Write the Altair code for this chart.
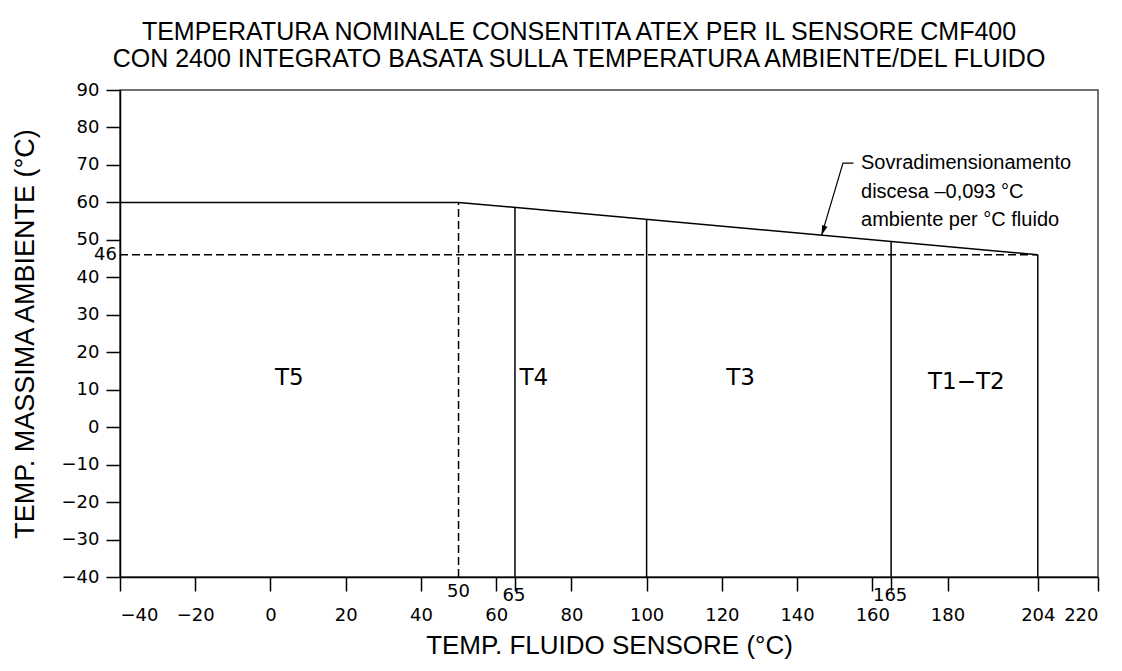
import altair as alt
import pandas as pd

# ---------------- data ----------------
TITLE = ["TEMPERATURA NOMINALE CONSENTITA ATEX PER IL SENSORE CMF400",
         "CON 2400 INTEGRATO BASATA SULLA TEMPERATURA AMBIENTE/DEL FLUIDO"]
X_TITLE = "TEMP. FLUIDO SENSORE (°C)"
Y_TITLE = "TEMP. MASSIMA AMBIENTE (°C)"

# upper limit line (fluid temp, max ambient temp)
limit_x = [-40, 50, 204]
limit_y = [60, 60, 46]

# solid class boundaries
div_x = [65, 100, 165, 204]
div_top = [58.6, 55.5, 49.5, 46.0]
y_min = -40

# dashed guides
vdash_x = [50]
vdash_top = [60]
hdash_y = [46]
hdash_x0 = [-40]
hdash_x1 = [204]

# temperature class labels
zones = ["T5", "T4", "T3", "T1−T2"]
zone_x = [5, 70, 125, 185]
zone_y = [13, 13, 13, 12]

# axis ticks
x_ticks = [-40, -20, 0, 20, 40, 60, 80, 100, 120, 140, 160, 180, 204, 220]
x_minor_ticks = [65, 165]
y_ticks = list(range(-40, 91, 10))

# extra labels
mark50_label = ["50"]
mark50_x = [50]
marks_labels = ["65", "165"]
marks_x = [65, 165]
mark46_label = ["46"]
mark46_y = [46]

# annotation
note_lines = ["Sovradimensionamento", "discesa –0,093 °C", "ambiente per °C fluido"]
note_x = [157, 157, 157]
note_y = [70.5, 62.8, 55.3]
leader_x = [155, 152.2, 146.5]
leader_y = [70.5, 70.5, 51.2]
tip_x = [146.5]
tip_y = [51.2]

# ---------------- chart ----------------
xs = alt.Scale(domain=[-40, 220], nice=False, zero=False)
ys = alt.Scale(domain=[-40, 90], nice=False, zero=False)

x_axis = alt.Axis(values=x_ticks + x_minor_ticks,
                  labelExpr="(datum.value == 65 || datum.value == 165) ? '' : datum.label",
                  tickSize=14, labelPadding=15, titlePadding=8, titleFontSize=26)
y_axis = alt.Axis(values=y_ticks, tickSize=14, labelPadding=7, titlePadding=22, titleFontSize=27)

X = lambda f="x": alt.X(f"{f}:Q", scale=xs, axis=x_axis, title=X_TITLE)
Y = lambda f="y": alt.Y(f"{f}:Q", scale=ys, axis=y_axis, title=Y_TITLE)

LW = 1.5

limit = alt.Chart(pd.DataFrame({"x": limit_x, "y": limit_y})).mark_line(
    color="black", strokeWidth=LW).encode(x=X(), y=Y())

divs = alt.Chart(pd.DataFrame({"x": div_x, "y": [y_min] * len(div_x), "y2": div_top})).mark_rule(
    color="black", strokeWidth=LW).encode(x=X(), y=Y(), y2="y2:Q")

vdash = alt.Chart(pd.DataFrame({"x": vdash_x, "y": [y_min], "y2": vdash_top})).mark_rule(
    color="black", strokeWidth=LW, strokeDash=[8, 4]).encode(x=X(), y=Y(), y2="y2:Q")

hdash = alt.Chart(pd.DataFrame({"x": hdash_x0, "x2": hdash_x1, "y": hdash_y})).mark_rule(
    color="black", strokeWidth=LW, strokeDash=[8, 4]).encode(x=X(), x2="x2:Q", y=Y())

zone_txt = alt.Chart(pd.DataFrame({"x": zone_x, "y": zone_y, "t": zones})).mark_text(
    font="DejaVu Sans", fontSize=23, color="black").encode(x=X(), y=Y(), text="t:N")

lab50 = alt.Chart(pd.DataFrame({"x": mark50_x, "y": [y_min], "t": mark50_label})).mark_text(
    font="DejaVu Sans", fontSize=18, color="black", dy=15).encode(x=X(), y=Y(), text="t:N")

labs = alt.Chart(pd.DataFrame({"x": marks_x, "y": [y_min] * 2, "t": marks_labels})).mark_text(
    font="DejaVu Sans", fontSize=18, color="black", dy=19, dx=-1).encode(x=X(), y=Y(), text="t:N")

lab46 = alt.Chart(pd.DataFrame({"x": [-40], "y": mark46_y, "t": mark46_label})).mark_text(
    font="DejaVu Sans", fontSize=18, color="black", align="right", dx=-3).encode(x=X(), y=Y(), text="t:N")

note = alt.Chart(pd.DataFrame({"x": note_x, "y": note_y, "t": note_lines})).mark_text(
    font="Liberation Sans", fontSize=20, color="black", align="left").encode(x=X(), y=Y(), text="t:N")

leader = alt.Chart(pd.DataFrame({"x": leader_x, "y": leader_y, "o": [0, 1, 2]})).mark_line(
    color="black", strokeWidth=1.2).encode(x=X(), y=Y(), order="o:O")

tip = alt.Chart(pd.DataFrame({"x": tip_x, "y": tip_y})).mark_point(
    shape="M0,0L-0.28,-1L0.28,-1Z", filled=True, color="black", opacity=1,
    size=400, angle=19).encode(x=X(), y=Y())

chart = alt.layer(hdash, vdash, divs, limit, zone_txt, lab50, labs, lab46, note, leader, tip).properties(
    width=978, height=487,
    padding={"left": 112, "top": 82, "right": 16, "bottom": 92},
    autosize=alt.AutoSizeParams(type="none"),
    title=alt.TitleParams(TITLE, anchor="middle", fontSize=25, font="Liberation Sans",
                          fontWeight="normal", color="black", dx=-30, offset=9, lineHeight=27),
).configure_view(
    stroke="#444", strokeWidth=1.5
).configure_axis(
    grid=False, domainColor="black", domainWidth=1.5, tickColor="black", tickWidth=1.5,
    labelFont="DejaVu Sans", labelFontSize=18, labelColor="black",
    titleFont="Liberation Sans", titleFontWeight="normal", titleColor="black",
)

chart.save("out.html", embed_options={"renderer": "svg", "actions": False})
